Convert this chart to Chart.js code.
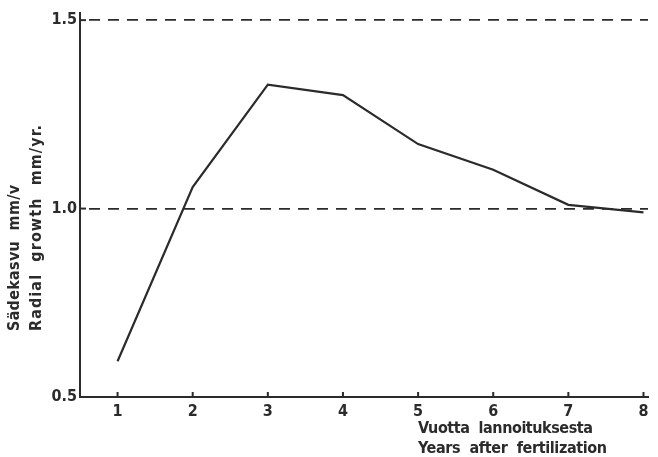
<!DOCTYPE html>
<html>
<head>
<meta charset="utf-8">
<script src="https://cdn.jsdelivr.net/npm/chart.js@4"></script>
<style>
html,body{margin:0;padding:0;background:#fff;}
canvas{display:block;}
</style>
</head>
<body>
<canvas id="c" width="658" height="457"></canvas>
<script>
const years = [1, 2, 3, 4, 5, 6, 7, 8];
const radialGrowth = [0.595, 1.057, 1.329, 1.301, 1.171, 1.103, 1.010, 0.990];
const yTickValues = [0.5, 1.0, 1.5];
const yTickLabels = ['0.5', '1.0', '1.5'];
const xTickValues = [1, 2, 3, 4, 5, 6, 7, 8];
const yTitleLines = ['Sädekasvu  mm/v', 'Radial  growth  mm/yr.'];
const xTitleLines = ['Vuotta  lannoituksesta', 'Years  after  fertilization'];

const INK = '#2b2b2b';
const FONT_FAMILY = "'Liberation Sans Narrow','DejaVu Sans Condensed','Liberation Sans',Arial,sans-serif";

function fitText(ctx, text, x, y, targetWidth) {
  ctx.letterSpacing = '0px';
  const w = ctx.measureText(text).width;
  const n = Math.max(text.length - 1, 1);
  const ls = (targetWidth - w) / n;
  ctx.letterSpacing = ls.toFixed(2) + 'px';
  ctx.fillText(text, x, y);
  ctx.letterSpacing = '0px';
}

const decorPlugin = {
  id: 'decor',
  afterDraw(chart) {
    const ctx = chart.ctx;
    const xs = chart.scales.x, ys = chart.scales.y;
    ctx.save();
    ctx.strokeStyle = INK;
    ctx.lineWidth = 2;
    xTickValues.forEach(v => {
      const px = xs.getPixelForValue(v);
      ctx.beginPath();
      ctx.moveTo(px, ys.bottom);
      ctx.lineTo(px, ys.bottom - 5);
      ctx.stroke();
    });
    yTickValues.forEach(v => {
      const py = ys.getPixelForValue(v);
      ctx.beginPath();
      ctx.moveTo(xs.left, py);
      ctx.lineTo(xs.left + 6, py);
      ctx.stroke();
    });
    ctx.fillStyle = INK;
    ctx.font = 'bold 16px ' + FONT_FAMILY;
    ctx.textBaseline = 'middle';
    ctx.textAlign = 'left';
    fitText(ctx, xTitleLines[0], 418, 429, 175);
    fitText(ctx, xTitleLines[1], 418, 449, 189);
    ctx.save();
    ctx.rotate(-Math.PI / 2);
    fitText(ctx, yTitleLines[0], -331, 15, 146);
    fitText(ctx, yTitleLines[1], -331, 37, 206);
    ctx.restore();
    ctx.restore();
  }
};

new Chart(document.getElementById('c'), {
  type: 'line',
  data: {
    datasets: [{
      data: years.map((x, i) => ({ x: x, y: radialGrowth[i] })),
      borderColor: INK,
      borderWidth: 2.2,
      pointRadius: 0,
      tension: 0,
      fill: false
    }]
  },
  options: {
    responsive: false,
    animation: false,
    devicePixelRatio: 1,
    layout: { padding: { left: 0, top: 10, right: 10, bottom: 0 } },
    plugins: { legend: { display: false }, tooltip: { enabled: false } },
    scales: {
      x: {
        type: 'linear',
        min: 0.5,
        max: 8.06,
        afterFit(s) { s.height = 60; },
        afterBuildTicks(s) { s.ticks = xTickValues.map(v => ({ value: v })); },
        grid: { display: false, drawTicks: false },
        border: { display: true, color: INK, width: 2 },
        ticks: {
          padding: 5,
          color: INK,
          font: { family: FONT_FAMILY, size: 16, weight: 'bold' },
          maxRotation: 0,
          autoSkip: false,
          callback: v => String(v)
        }
      },
      y: {
        type: 'linear',
        min: 0.5,
        max: 1.52,
        afterFit(s) { s.width = 80; },
        afterBuildTicks(s) { s.ticks = yTickValues.map(v => ({ value: v })); },
        grid: {
          drawTicks: false,
          lineWidth: 1.8,
          color: ctx => (ctx.tick && ctx.tick.value === 0.5) ? 'rgba(0,0,0,0)' : INK
        },
        border: { display: true, color: INK, width: 2, dash: [11, 8], dashOffset: -8 },
        ticks: {
          padding: 3,
          color: INK,
          font: { family: FONT_FAMILY, size: 16, weight: 'bold' },
          autoSkip: false,
          callback: (v) => {
            const i = yTickValues.indexOf(v);
            return i >= 0 ? yTickLabels[i] : '';
          }
        }
      }
    }
  },
  plugins: [decorPlugin]
});
</script>
</body>
</html>
